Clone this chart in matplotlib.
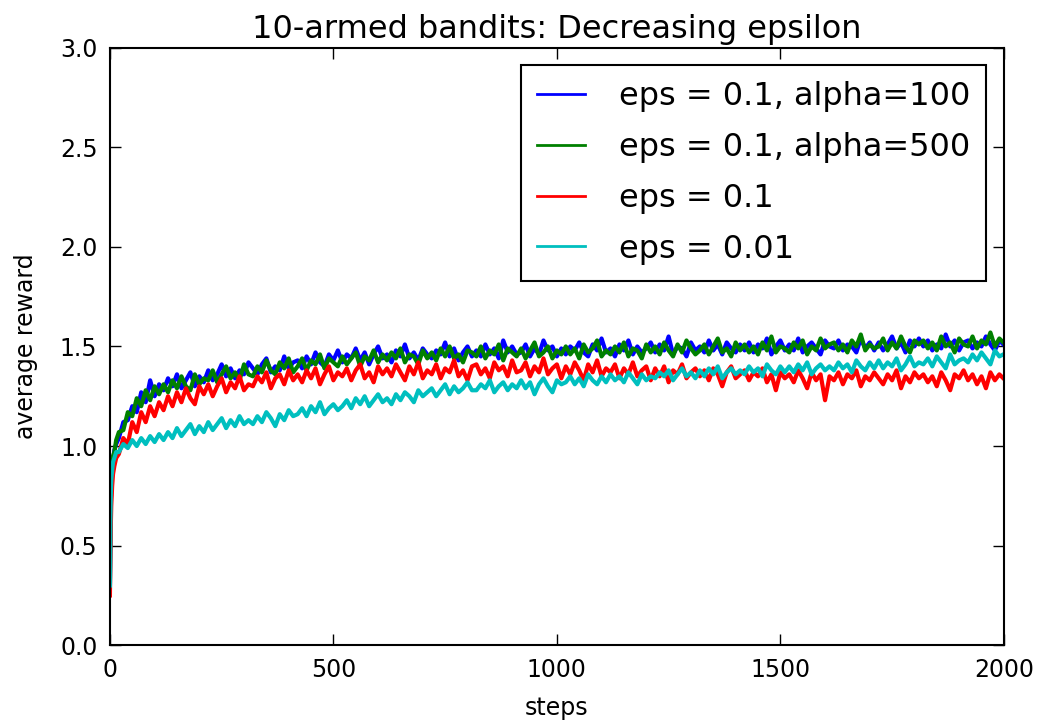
import matplotlib
matplotlib.use("Agg")
import matplotlib.pyplot as plt

# steps: dense at the very start, then every 10 steps
head_steps = [0, 1, 2, 3, 5, 7, 10, 14]
steps = head_steps + list(range(20, 2000, 10)) + [1999]

labels = ["eps = 0.1, alpha=100", "eps = 0.1, alpha=500", "eps = 0.1", "eps = 0.01"]
colors = ["b", "g", "r", "c"]

# eps = 0.1, alpha=100
blue = [0.30, 0.55, 0.72, 0.80, 0.90, 0.93, 0.98, 1.01,
        1.04, 1.12, 1.13, 1.20, 1.17, 1.27, 1.22, 1.33, 1.25, 1.31,
        1.28, 1.34, 1.30, 1.36, 1.29, 1.33, 1.37, 1.30, 1.35, 1.32,
        1.38, 1.33, 1.36, 1.41, 1.35, 1.39, 1.34, 1.38, 1.36, 1.42,
        1.39, 1.36, 1.41, 1.44, 1.37, 1.40, 1.38, 1.45, 1.39, 1.42,
        1.43, 1.39, 1.45, 1.41, 1.47, 1.42, 1.40, 1.46, 1.43, 1.48,
        1.42, 1.46, 1.44, 1.49, 1.43, 1.47, 1.41, 1.46, 1.50, 1.44,
        1.46, 1.42, 1.48, 1.45, 1.51, 1.44, 1.47, 1.43, 1.49, 1.46,
        1.44, 1.48, 1.46, 1.52, 1.45, 1.49, 1.43, 1.47, 1.50, 1.45,
        1.48, 1.45, 1.51, 1.46, 1.49, 1.44, 1.53, 1.47, 1.50, 1.46,
        1.47, 1.51, 1.45, 1.49, 1.46, 1.53, 1.48, 1.50, 1.45, 1.49,
        1.46, 1.50, 1.48, 1.52, 1.47, 1.45, 1.51, 1.48, 1.54, 1.47,
        1.49, 1.45, 1.51, 1.48, 1.53, 1.46, 1.50, 1.47, 1.49, 1.52,
        1.47, 1.51, 1.48, 1.55, 1.46, 1.50, 1.49, 1.45, 1.52, 1.48,
        1.50, 1.47, 1.53, 1.48, 1.51, 1.46, 1.52, 1.49, 1.47, 1.51,
        1.48, 1.52, 1.47, 1.51, 1.49, 1.54, 1.46, 1.50, 1.53, 1.48,
        1.51, 1.48, 1.54, 1.47, 1.50, 1.52, 1.49, 1.46, 1.53, 1.50,
        1.49, 1.53, 1.48, 1.51, 1.50, 1.47, 1.54, 1.49, 1.52, 1.48,
        1.52, 1.48, 1.51, 1.55, 1.49, 1.52, 1.47, 1.53, 1.50, 1.54,
        1.50, 1.53, 1.48, 1.51, 1.49, 1.56, 1.50, 1.53, 1.48, 1.52,
        1.53, 1.49, 1.52, 1.50, 1.55, 1.51, 1.48, 1.53, 1.51]

# eps = 0.1, alpha=500
green = [0.28, 0.58, 0.70, 0.82, 0.88, 0.95, 0.97, 1.03,
         1.07, 1.08, 1.17, 1.15, 1.24, 1.20, 1.28, 1.23, 1.30, 1.26,
         1.31, 1.27, 1.33, 1.29, 1.35, 1.30, 1.28, 1.36, 1.31, 1.34,
         1.33, 1.38, 1.32, 1.36, 1.40, 1.34, 1.37, 1.33, 1.41, 1.36,
         1.35, 1.40, 1.37, 1.43, 1.38, 1.36, 1.42, 1.39, 1.44, 1.37,
         1.40, 1.44, 1.38, 1.43, 1.41, 1.46, 1.39, 1.44, 1.42, 1.40,
         1.45, 1.41, 1.44, 1.47, 1.40, 1.45, 1.43, 1.48, 1.42, 1.46,
         1.43, 1.47, 1.44, 1.49, 1.42, 1.46, 1.45, 1.41, 1.48, 1.44,
         1.47, 1.43, 1.49, 1.45, 1.50, 1.44, 1.46, 1.42, 1.48, 1.47,
         1.45, 1.50, 1.44, 1.48, 1.46, 1.51, 1.43, 1.49, 1.47, 1.45,
         1.49, 1.44, 1.48, 1.52, 1.45, 1.47, 1.50, 1.44, 1.48, 1.46,
         1.50, 1.46, 1.49, 1.44, 1.51, 1.47, 1.49, 1.53, 1.45, 1.48,
         1.46, 1.50, 1.47, 1.52, 1.45, 1.49, 1.48, 1.44, 1.51, 1.47,
         1.50, 1.46, 1.52, 1.48, 1.45, 1.51, 1.47, 1.53, 1.49, 1.46,
         1.48, 1.51, 1.46, 1.50, 1.54, 1.47, 1.49, 1.45, 1.52, 1.48,
         1.51, 1.47, 1.50, 1.46, 1.52, 1.48, 1.55, 1.47, 1.50, 1.49,
         1.47, 1.52, 1.49, 1.53, 1.46, 1.50, 1.48, 1.54, 1.49, 1.51,
         1.52, 1.48, 1.51, 1.47, 1.53, 1.50, 1.56, 1.48, 1.51, 1.49,
         1.50, 1.54, 1.48, 1.52, 1.49, 1.55, 1.50, 1.47, 1.53, 1.51,
         1.53, 1.49, 1.52, 1.48, 1.55, 1.50, 1.52, 1.47, 1.54, 1.51,
         1.50, 1.55, 1.49, 1.53, 1.51, 1.57, 1.50, 1.54, 1.52]

# eps = 0.1
red = [0.25, 0.45, 0.60, 0.70, 0.80, 0.86, 0.90, 0.94,
       0.96, 1.04, 1.01, 1.12, 1.07, 1.17, 1.12, 1.20, 1.15, 1.22,
       1.18, 1.25, 1.20, 1.27, 1.22, 1.29, 1.24, 1.21, 1.30, 1.26,
       1.31, 1.25, 1.30, 1.34, 1.27, 1.32, 1.29, 1.35, 1.28, 1.31,
       1.30, 1.35, 1.32, 1.37, 1.29, 1.34, 1.36, 1.31, 1.38, 1.33,
       1.36, 1.32, 1.38, 1.34, 1.39, 1.31, 1.36, 1.40, 1.33, 1.37,
       1.35, 1.39, 1.33, 1.38, 1.41, 1.34, 1.37, 1.32, 1.40, 1.36,
       1.39, 1.35, 1.41, 1.37, 1.33, 1.40, 1.36, 1.42, 1.34, 1.38,
       1.36, 1.41, 1.34, 1.39, 1.37, 1.43, 1.35, 1.38, 1.33, 1.40,
       1.41, 1.36, 1.39, 1.34, 1.42, 1.38, 1.40, 1.35, 1.43, 1.37,
       1.38, 1.42, 1.35, 1.40, 1.37, 1.44, 1.36, 1.39, 1.41, 1.34,
       1.40, 1.36, 1.42, 1.38, 1.33, 1.41, 1.37, 1.43, 1.35, 1.39,
       1.37, 1.41, 1.34, 1.39, 1.36, 1.42, 1.35, 1.38, 1.40, 1.33,
       1.39, 1.35, 1.40, 1.32, 1.38, 1.36, 1.41, 1.34, 1.37, 1.39,
       1.35, 1.38, 1.33, 1.39, 1.36, 1.30, 1.37, 1.40, 1.34, 1.36,
       1.38, 1.33, 1.37, 1.35, 1.39, 1.32, 1.36, 1.28, 1.37, 1.34,
       1.36, 1.32, 1.38, 1.34, 1.29, 1.37, 1.33, 1.36, 1.23, 1.35,
       1.33, 1.37, 1.31, 1.36, 1.34, 1.38, 1.30, 1.35, 1.33, 1.37,
       1.34, 1.31, 1.36, 1.33, 1.38, 1.29, 1.35, 1.32, 1.37, 1.34,
       1.36, 1.32, 1.35, 1.30, 1.37, 1.33, 1.28, 1.36, 1.34, 1.38,
       1.33, 1.36, 1.31, 1.35, 1.29, 1.37, 1.33, 1.36, 1.34]

# eps = 0.01
cyan = [0.30, 0.62, 0.76, 0.83, 0.88, 0.92, 0.94, 0.97,
        0.97, 1.01, 0.99, 1.03, 1.00, 1.04, 1.01, 1.05, 1.02, 1.06,
        1.03, 1.07, 1.04, 1.09, 1.05, 1.08, 1.11, 1.06, 1.10, 1.07,
        1.12, 1.08, 1.11, 1.14, 1.09, 1.13, 1.10, 1.15, 1.11, 1.13,
        1.11, 1.15, 1.12, 1.17, 1.14, 1.10, 1.16, 1.13, 1.18, 1.15,
        1.16, 1.19, 1.15, 1.20, 1.17, 1.22, 1.16, 1.19, 1.21, 1.18,
        1.20, 1.23, 1.19, 1.24, 1.21, 1.25, 1.20, 1.23, 1.26, 1.22,
        1.24, 1.21, 1.26, 1.23, 1.27, 1.25, 1.22, 1.28, 1.25, 1.27,
        1.29, 1.25, 1.28, 1.31, 1.26, 1.30, 1.27, 1.29, 1.32, 1.28,
        1.28, 1.31, 1.29, 1.33, 1.27, 1.30, 1.32, 1.28, 1.31, 1.29,
        1.33, 1.29, 1.32, 1.26, 1.31, 1.34, 1.30, 1.27, 1.33, 1.31,
        1.32, 1.35, 1.31, 1.34, 1.30, 1.36, 1.33, 1.31, 1.35, 1.32,
        1.36, 1.33, 1.35, 1.32, 1.37, 1.34, 1.31, 1.36, 1.33, 1.35,
        1.34, 1.37, 1.35, 1.38, 1.33, 1.36, 1.39, 1.35, 1.37, 1.34,
        1.38, 1.35, 1.39, 1.36, 1.40, 1.34, 1.37, 1.39, 1.36, 1.38,
        1.36, 1.40, 1.37, 1.39, 1.35, 1.41, 1.38, 1.36, 1.40, 1.37,
        1.40, 1.37, 1.41, 1.38, 1.42, 1.36, 1.39, 1.41, 1.38, 1.40,
        1.38, 1.42, 1.39, 1.41, 1.37, 1.43, 1.40, 1.38, 1.42, 1.39,
        1.43, 1.39, 1.42, 1.40, 1.44, 1.38, 1.41, 1.45, 1.40, 1.42,
        1.41, 1.44, 1.40, 1.45, 1.42, 1.39, 1.46, 1.41, 1.43, 1.44,
        1.42, 1.46, 1.43, 1.47, 1.44, 1.41, 1.48, 1.45, 1.46]

series = [blue, green, red, cyan]
for s in series:
    assert len(s) == len(steps), (len(s), len(steps))

fig = plt.figure(figsize=(10.37, 7.21), dpi=100)
ax = fig.add_axes([0.106, 0.105, 0.862, 0.829])

# thick lines so the noisy curves read as solid bands
for ys, c, lab in zip(series, colors, labels):
    ax.plot(steps, ys, color=c, linewidth=3.0, label=lab)

ax.set_xlim(0, 2000)
ax.set_ylim(0, 3.0)
ax.set_xticks([0, 500, 1000, 1500, 2000])
ax.set_yticks([0.0, 0.5, 1.0, 1.5, 2.0, 2.5, 3.0])
ax.set_yticklabels(["0.0", "0.5", "1.0", "1.5", "2.0", "2.5", "3.0"])
ax.tick_params(direction="in", top=True, right=True, length=8, width=1,
               labelsize=17, pad=9)
for sp in ax.spines.values():
    sp.set_linewidth(1.5)

ax.set_title("10-armed bandits: Decreasing epsilon", fontsize=23, pad=7)
ax.set_xlabel("steps", fontsize=17, labelpad=10)
ax.set_ylabel("average reward", fontsize=17, labelpad=16)

leg = ax.legend(loc="upper right", fontsize=23, fancybox=False, framealpha=1,
                edgecolor="black", handlelength=1.5, handletextpad=1.05,
                labelspacing=0.62, borderpad=0.5, borderaxespad=0.55)
leg.get_frame().set_linewidth(1.5)
for line in leg.get_lines():
    line.set_linewidth(2)

fig.savefig("out.png", dpi=100, facecolor="white")
